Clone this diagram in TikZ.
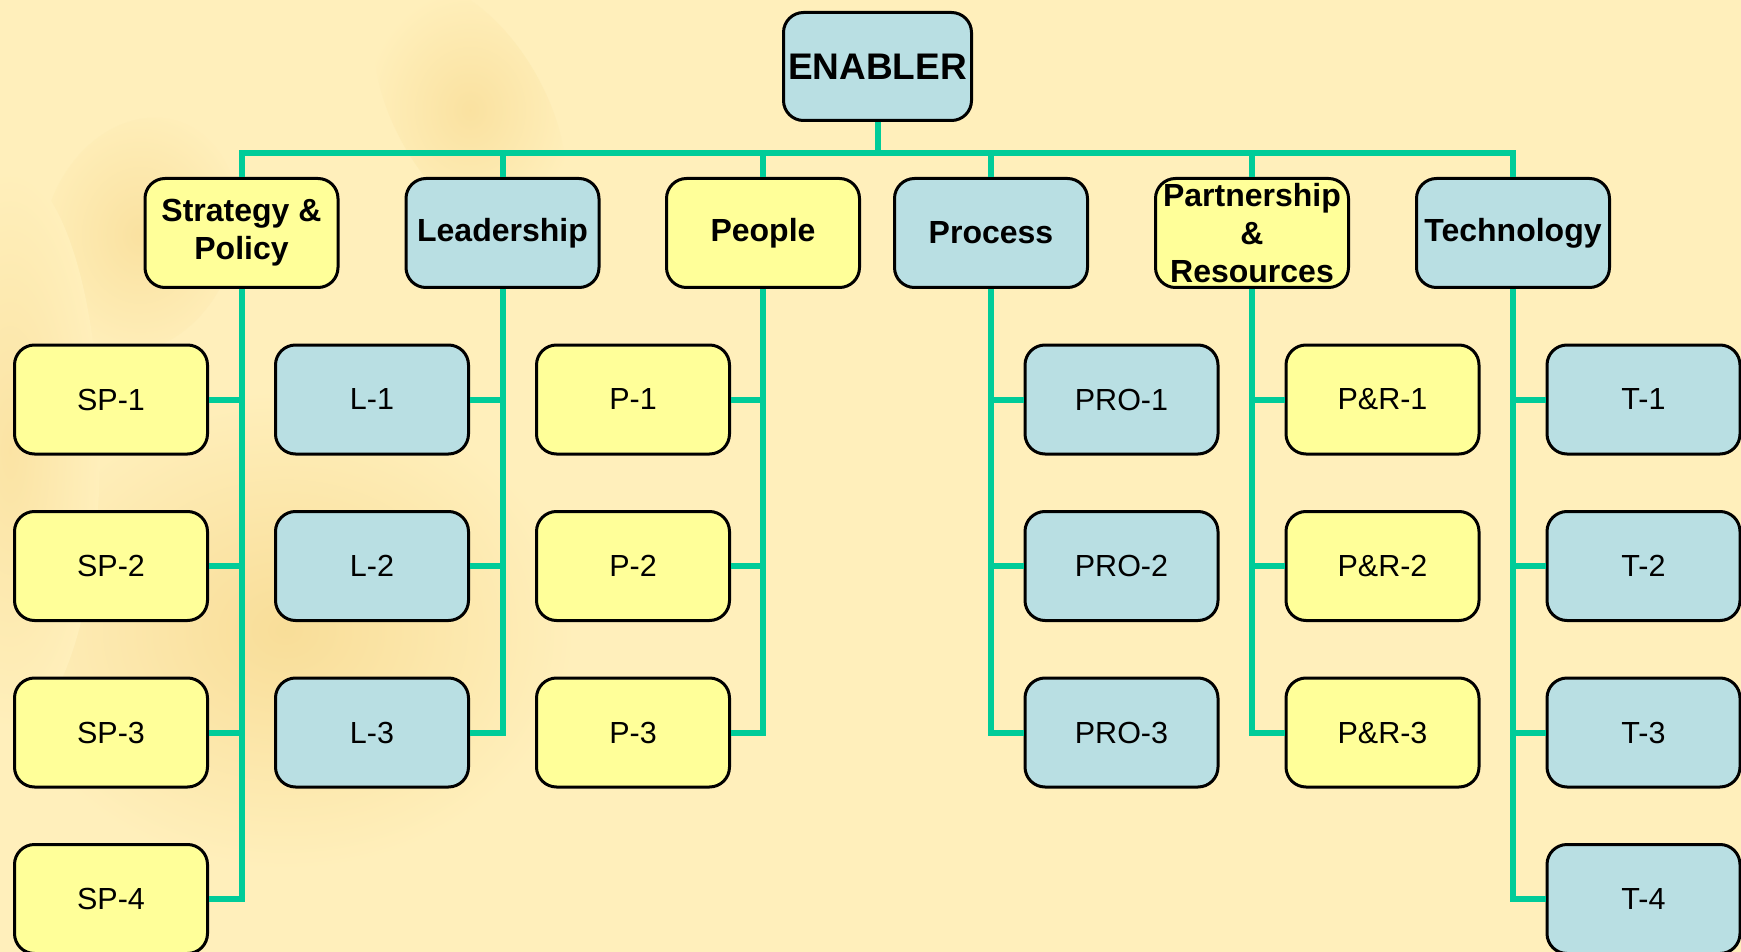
\documentclass[tikz,border=0pt]{standalone}
\usepackage{fontspec}
\setmainfont{Liberation Sans}
\usetikzlibrary{calc}
\definecolor{bg}{RGB}{255,239,187}
\definecolor{boxyellow}{RGB}{255,255,153}
\definecolor{boxblue}{RGB}{185,223,227}
\definecolor{linkgreen}{RGB}{0,204,153}
\definecolor{blob}{RGB}{240,200,110}

\begin{document}
\begin{tikzpicture}[x=1pt,y=-1pt,
  box/.style={draw=black, line width=3pt, rounded corners=20pt,
    minimum width=193pt, minimum height=109pt, align=center, inner sep=2pt,
    font=\fontsize{30.5}{38}\selectfont},
  head/.style={box, font=\fontsize{32}{38}\selectfont\bfseries},
  ybox/.style={fill=boxyellow},
  bbox/.style={fill=boxblue},
  link/.style={draw=linkgreen, line width=6pt}]

% page and soft background artwork
\useasboundingbox (0,0) rectangle (1741,952);
\fill[bg] (0,0) rectangle (1741,952);
\begin{scope}
  \clip (0,0) rectangle (1741,952);
  \shade[inner color=blob!45!bg, outer color=bg] (285,630) ellipse [x radius=290, y radius=240];
  \shade[inner color=blob!35!bg, outer color=bg, rotate around={-20:(140,235)}] (140,235) ellipse [x radius=95, y radius=120];
  \shade[inner color=blob!35!bg, outer color=bg, rotate around={30:(470,110)}] (470,110) ellipse [x radius=75, y radius=140];
  \shade[inner color=blob!30!bg, outer color=bg] (10,450) ellipse [x radius=90, y radius=280];
\end{scope}

% root
\node[box, bbox, font=\fontsize{37}{44}\selectfont\bfseries,
      minimum width=188pt, minimum height=108pt] (en) at (877.5,66.5) {ENABLER};

% first level
\node[head, ybox] (sp) at (241.5,233) {Strategy \&\\Policy};
\node[head, bbox] (ld) at (502.5,233) {Leadership};
\node[head, ybox] (pe) at (763,233)   {People};
\node[head, bbox] (pr) at (991,233)   {Process};
\node[head, ybox] (pa) at (1252,233)  {Partnership\\\&\\Resources};
\node[head, bbox] (te) at (1513,233)  {Technology};

% second level
\foreach \i/\y in {1/399.5,2/566,3/732.5,4/899}{
  \node[box, ybox] (sp\i) at (111,\y) {SP-\i};
  \node[box, bbox] (te\i) at (1643.5,\y) {T-\i};
}
\foreach \i/\y in {1/399.5,2/566,3/732.5}{
  \node[box, bbox] (ld\i) at (372,\y)    {L-\i};
  \node[box, ybox] (pe\i) at (633,\y)    {P-\i};
  \node[box, bbox] (pr\i) at (1121.5,\y) {PRO-\i};
  \node[box, ybox] (pa\i) at (1382.5,\y) {P\&R-\i};
}

% bus from the root to the first level
\coordinate (bus) at (0,153);
\draw[link] (en.south) -- (en.south |- bus);
\draw[link] (sp.north) -- (sp.north |- bus) -- (te.north |- bus) -- (te.north);
\foreach \n in {ld,pe,pr,pa}{
  \draw[link] (\n.north) -- (\n.north |- bus);
}

% branches to the second level
\draw[link] (sp.south) |- (sp4.east);
\draw[link] (te.south) |- (te4.west);
\foreach \i in {1,2,3}{
  \draw[link] (sp\i.east) -- (sp\i.east -| sp.south);
  \draw[link] (te\i.west) -- (te\i.west -| te.south);
}
\draw[link] (ld.south) |- (ld3.east);
\draw[link] (pe.south) |- (pe3.east);
\draw[link] (pr.south) |- (pr3.west);
\draw[link] (pa.south) |- (pa3.west);
\foreach \i in {1,2}{
  \draw[link] (ld\i.east) -- (ld\i.east -| ld.south);
  \draw[link] (pe\i.east) -- (pe\i.east -| pe.south);
  \draw[link] (pr\i.west) -- (pr\i.west -| pr.south);
  \draw[link] (pa\i.west) -- (pa\i.west -| pa.south);
}
\end{tikzpicture}
\end{document}
